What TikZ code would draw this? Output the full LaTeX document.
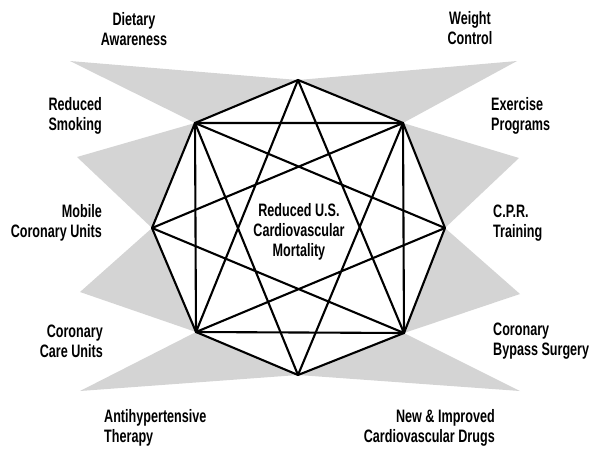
\documentclass[tikz,border=0pt]{standalone}
\usepackage{fontspec}
\setmainfont{Liberation Sans}[FakeStretch=0.70]
\begin{document}
\begin{tikzpicture}[x=1pt,y=-1pt,
  wedge/.style={fill=black!17,draw=none},
  edge/.style={draw=black,line width=2.1pt,line join=round,line cap=round},
  lbl/.style={font=\bfseries\fontsize{18}{20}\selectfont,inner sep=0pt,align=center},
  lblr/.style={lbl,align=right},
  lbll/.style={lbl,align=left}]
\useasboundingbox (0,0) rectangle (598,448);
% vertices
\coordinate (T)  at (298,80);
\coordinate (UR) at (403,123);
\coordinate (R)  at (445,228);
\coordinate (LR) at (404,333);
\coordinate (B)  at (298,375);
\coordinate (LL) at (196,332);
\coordinate (L)  at (152,228);
\coordinate (UL) at (195,123);
% wedge apexes
\coordinate (a1) at (70,61);
\coordinate (a2) at (517,61);
\coordinate (a3) at (77,157);
\coordinate (a4) at (519,158);
\coordinate (a5) at (80,292);
\coordinate (a6) at (520,294);
\coordinate (a7) at (80,391);
\coordinate (a8) at (520,391);
% wedges
\fill[wedge] (a1) -- (T) -- (UL) -- cycle;
\fill[wedge] (a2) -- (T) -- (UR) -- cycle;
\fill[wedge] (a3) -- (UL) -- (L) -- cycle;
\fill[wedge] (a4) -- (UR) -- (R) -- cycle;
\fill[wedge] (a5) -- (L) -- (LL) -- cycle;
\fill[wedge] (a6) -- (R) -- (LR) -- cycle;
\fill[wedge] (a7) -- (LL) -- (B) -- cycle;
\fill[wedge] (a8) -- (LR) -- (B) -- cycle;
\fill[white] (T) -- (UR) -- (R) -- (LR) -- (B) -- (LL) -- (L) -- (UL) -- cycle;
% octagon
\draw[edge] (T) -- (UR) -- (R) -- (LR) -- (B) -- (LL) -- (L) -- (UL) -- cycle;
% square
\draw[edge] (UL) -- (UR) -- (LR) -- (LL) -- cycle;
% {8/3} star
\draw[edge] (T) -- (LR) -- (L) -- (UR) -- (B) -- (UL) -- (R) -- (LL) -- cycle;
% labels
\node[lbl] (center) at (299,232) {Reduced U.S.\\Cardiovascular\\Mortality};
\node[lbl] (diet) at (134,29) {Dietary\\Awareness};
\node[lbl] (weight) at (470,28) {Weight\\Control};
\node[lblr,anchor=east] (smoke) at (102,116) {Reduced\\Smoking};
\node[lbll,anchor=west] (exer) at (491,116) {Exercise\\Programs};
\node[lblr,anchor=east] (mobile) at (102,223) {Mobile\\Coronary Units};
\node[lbll,anchor=west] (cpr) at (493,223) {C.P.R.\\Training};
\node[lblr,anchor=east] (ccu) at (103,341) {Coronary\\Care Units};
\node[lbll,anchor=west] (bypass) at (493,341) {Coronary\\Bypass Surgery};
\node[lbll,anchor=west] (anti) at (104,428) {Antihypertensive\\Therapy};
\node[lblr,anchor=east] (drugs) at (495,428) {New \& Improved\\Cardiovascular Drugs};
\end{tikzpicture}
\end{document}
